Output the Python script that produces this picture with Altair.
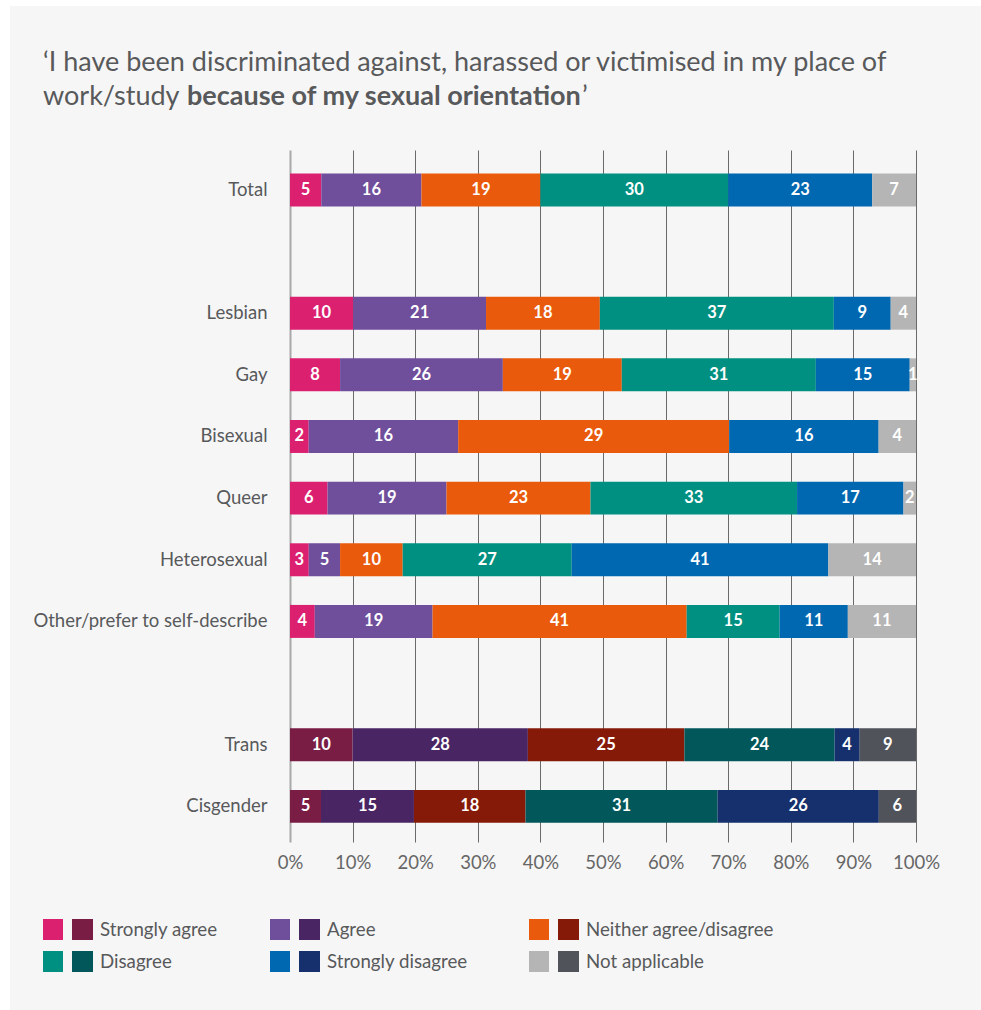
import altair as alt
import pandas as pd

# ---------------- data ----------------
categories = ["Total", "Lesbian", "Gay", "Bisexual", "Queer", "Heterosexual",
              "Other/prefer to self-describe", "Trans", "Cisgender"]
responses = ["Strongly agree", "Agree", "Neither agree/disagree",
             "Disagree", "Strongly disagree", "Not applicable"]
total_vals = [5, 16, 19, 30, 23, 7]
lesbian_vals = [10, 21, 18, 37, 9, 4]
gay_vals = [8, 26, 19, 31, 15, 1]
bisexual_vals = [2, 16, 29, None, 16, 4]
queer_vals = [6, 19, 23, 33, 17, 2]
hetero_vals = [3, 5, 10, 27, 41, 14]
other_vals = [4, 19, 41, 15, 11, 11]
trans_vals = [10, 28, 25, 24, 4, 9]
cis_vals = [5, 15, 18, 31, 26, 6]
light_colors = ["#DB2070", "#6F4E9C", "#E95A0C", "#009081", "#0067B1", "#B5B5B5"]
dark_colors = ["#7A1D45", "#4A2563", "#861A08", "#02575B", "#15306D", "#50535A"]
dark_groups = ["Trans", "Cisgender"]
tick_values = [i / 10 for i in range(11)]

title_line1 = "\u2018I have been discriminated against, harassed or victimised in my place of"
title_line2a = "work/study"
title_line2b = "because of my sexual orientation"
title_line2c = "\u2019"

all_vals = [total_vals, lesbian_vals, gay_vals, bisexual_vals, queer_vals,
            hetero_vals, other_vals, trans_vals, cis_vals]

rows = []
for c, vals in zip(categories, all_vals):
    shade = "dark" if c in dark_groups else "light"
    for j, (r, v) in enumerate(zip(responses, vals)):
        if v is None:
            continue
        rows.append({"cat": c, "resp": r, "order": j, "value": v, "key": f"{shade}|{r}"})
df = pd.DataFrame(rows)

key_domain = [f"light|{r}" for r in responses] + [f"dark|{r}" for r in responses]
key_range = light_colors + dark_colors

y_domain = ["Total", " "] + categories[1:7] + ["  "] + categories[7:]

# ---------------- layout ----------------
W, H = 626, 692
PL, PT, PR, PB = 290, 150, 65, 168
FONT = "Lato"
TXT = "#58595b"

xscale = alt.Scale(domain=[0, 1], nice=False, zero=True)
yscale = alt.Scale(domain=y_domain, paddingInner=0.465, paddingOuter=0.345, align=0.55)

bars = alt.Chart(df).mark_bar().encode(
    x=alt.X("value:Q", stack="normalize", scale=xscale, title=None,
            axis=alt.Axis(values=tick_values, format="%", grid=True,
                          gridColor=alt.condition("datum.value == 0", alt.value("#a8a8a8"), alt.value("#6a6a6a")),
                          gridWidth=alt.condition("datum.value == 0", alt.value(2), alt.value(1)),
                          domain=False, ticks=False, labelFont=FONT, labelFontSize=18.5,
                          labelColor="#666666", labelPadding=11, labelFlush=False,
                          labelOverlap=False)),
    y=alt.Y("cat:N", scale=yscale, title=None,
            axis=alt.Axis(domain=False, ticks=False, grid=False, labelPadding=23, labelLimit=0,
                          labelFont=FONT, labelFontSize=18.5, labelColor=TXT)),
    color=alt.Color("key:N", scale=alt.Scale(domain=key_domain, range=key_range), legend=None),
    order=alt.Order("order:Q"),
)

labels = alt.Chart(df).transform_stack(
    stack="value", as_=["x0", "x1"], groupby=["cat"],
    sort=[alt.SortField("order", "ascending")], offset="normalize",
).transform_calculate(mid="(datum.x0 + datum.x1) / 2").mark_text(
    color="white", fontWeight="bold", font=FONT, fontSize=16.5, baseline="middle", align="center"
).encode(
    x=alt.X("mid:Q", title=None),
    y=alt.Y("cat:N", title=None),
    text=alt.Text("value:Q"),
)

one = pd.DataFrame({"a": [0]})
strip_left = alt.Chart(one).mark_rect(color="white").encode(
    x=alt.value(-PL), x2=alt.value(-PL + 10), y=alt.value(-PT), y2=alt.value(H + PB))
strip_top = alt.Chart(one).mark_rect(color="white").encode(
    x=alt.value(-PL), x2=alt.value(W + PR), y=alt.value(-PT), y2=alt.value(-PT + 6))

def title_text(txt, x, y, bold=False):
    return alt.Chart(pd.DataFrame({"t": [txt]})).mark_text(
        align="left", baseline="middle", font=FONT, fontSize=27,
        fontWeight="bold" if bold else "normal", color=TXT
    ).encode(x=alt.value(x), y=alt.value(y), text="t:N")

t1 = title_text(title_line1, 43 - PL, 63 - PT)
t2a = title_text(title_line2a, 43 - PL, 97 - PT)
t2b = title_text(title_line2b, 187 - PL, 97 - PT, bold=True)
t2c = title_text(title_line2c, 582 - PL, 97 - PT)

# legend (pixel positions, scale disabled)
col_x = [43, 270, 529]
row_y = [919, 951]
leg_rects, leg_texts = [], []
for i, r in enumerate(responses):
    lx = col_x[i % 3] - PL
    ly = row_y[i // 3] - PT
    leg_rects.append({"x0": lx, "x1": lx + 20, "y0": ly, "y1": ly + 21, "c": light_colors[i]})
    leg_rects.append({"x0": lx + 29, "x1": lx + 50, "y0": ly, "y1": ly + 21, "c": dark_colors[i]})
    leg_texts.append({"x": lx + 57, "y": ly + 11, "t": r})

leg_r = alt.Chart(pd.DataFrame(leg_rects)).mark_rect().encode(
    x=alt.X("x0:Q", scale=None), x2="x1:Q",
    y=alt.Y("y0:Q", scale=None), y2="y1:Q",
    color=alt.Color("c:N", scale=None),
)
leg_t = alt.Chart(pd.DataFrame(leg_texts)).mark_text(
    align="left", baseline="middle", font=FONT, fontSize=18.7, color=TXT
).encode(
    x=alt.X("x:Q", scale=None),
    y=alt.Y("y:Q", scale=None),
    text="t:N",
)

chart = alt.layer(strip_left, strip_top, bars, labels, t1, t2a, t2b, t2c, leg_r, leg_t).properties(
    width=W, height=H,
    autosize=alt.AutoSizeParams(type="none"),
    padding={"left": PL, "top": PT, "right": PR, "bottom": PB},
).configure(background="#f6f6f6").configure_view(stroke=None)

chart.save("out.html", embed_options={"renderer": "svg", "actions": False})
